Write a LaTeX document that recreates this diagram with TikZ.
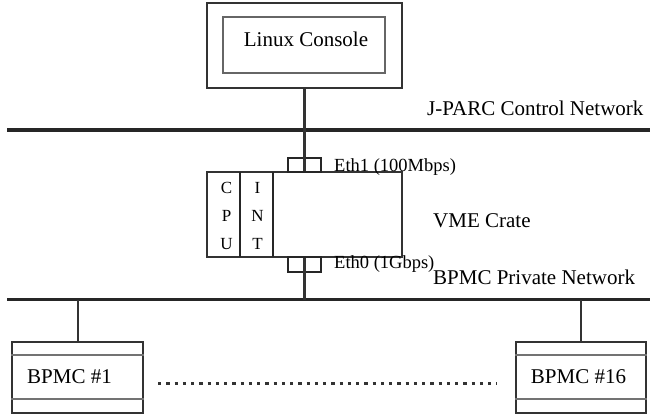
\documentclass[tikz,border=0pt]{standalone}
\usepackage{fontspec}
\setmainfont{Liberation Serif}
\begin{document}
\begin{tikzpicture}[x=1pt,y=-1pt,
  box/.style={draw=black!80,line width=2pt,inner sep=0pt,minimum width=#1},
  ibox/.style={draw=black!60,line width=1.5pt,inner sep=0pt},
  net/.style={draw=black!85,line width=3.5pt},
  wire/.style={draw=black!80,line width=2.5pt},
  ethbox/.style={draw=black!85,line width=2pt,inner sep=0pt,minimum width=33pt,minimum height=14pt},
  big/.style={font=\fontsize{21}{25}\selectfont,inner sep=0pt},
  small/.style={font=\fontsize{18.5}{22}\selectfont,inner sep=0pt},
  let/.style={font=\fontsize{17}{20}\selectfont,inner sep=0pt,anchor=base},
  dots/.style={draw=black!80,line width=3.3pt,dash pattern=on 3.3pt off 4.95pt}
]
\useasboundingbox (0,0) rectangle (650,415);
% Linux console
\node[box=195pt,minimum height=85pt] (lcout) at (304.5,45.5) {};
\node[ibox,minimum width=162pt,minimum height=56pt] (lcin) at (304,45) {};
\node[big,anchor=base] (lctext) at (306,46) {Linux Console};
% networks
\coordinate (jl) at (7,130);
\coordinate (jr) at (650,130);
\draw[net] (jl) -- (jr);
\node[big,anchor=base west] (jtext) at (427,115) {J-PARC Control Network};
\coordinate (bl) at (7,299.5);
\coordinate (br) at (650,299.5);
\draw[net] (bl) -- (br);
\node[big,anchor=base west] (btext) at (433,284) {BPMC Private Network};
% VME crate
\node[box=195pt,minimum height=85pt] (crate) at (304.5,214.5) {};
\draw[black!85,line width=2pt] (240,172) -- (240,257) (273,172) -- (273,257);
\node[let] (c1) at (226.5,193) {C};
\node[let] (c2) at (226.5,221) {P};
\node[let] (c3) at (226.5,249) {U};
\node[let] (i1) at (257.5,193) {I};
\node[let] (i2) at (257.5,221) {N};
\node[let] (i3) at (257.5,249) {T};
\node[big,anchor=base west] (vtext) at (433,227) {VME Crate};
% eth boxes
\node[ethbox] (eth1) at (304.5,165) {};
\node[ethbox,minimum height=15pt] (eth0) at (304.5,264.5) {};
\node[small,anchor=base west] (e1text) at (334,171) {Eth1 (100Mbps)};
\node[small,anchor=base west] (e0text) at (334,268) {Eth0 (1Gbps)};
% connectors
\draw[wire] (lcout.south) -- (lcout.south |- jl);
\draw[wire] (crate.north |- jl) -- (crate.north);
\draw[wire] (crate.south) -- (crate.south |- bl);
% BPMC boxes
\node[box=131pt,minimum height=71pt] (b1) at (77.5,377.5) {};
\draw[black!55,line width=1.5pt] ([yshift=-14pt]b1.north west) -- ([yshift=-14pt]b1.north east)
  ([yshift=15pt]b1.south west) -- ([yshift=15pt]b1.south east);
\node[big,anchor=base] (b1text) at (69.5,383) {BPMC \#1};
\node[box=130pt,minimum height=71pt] (b16) at (581,377.5) {};
\draw[black!55,line width=1.5pt] ([yshift=-14pt]b16.north west) -- ([yshift=-14pt]b16.north east)
  ([yshift=15pt]b16.south west) -- ([yshift=15pt]b16.south east);
\node[big,anchor=base] (b16text) at (578.5,383) {BPMC \#16};
\draw[wire] (78,299.5) -- (78,342);
\draw[wire] (b16.north |- bl) -- (b16.north);
\coordinate (d1) at (158,383.5);
\coordinate (d2) at (497,383.5);
\draw[dots] (d1) -- (d2);
\end{tikzpicture}
\end{document}
